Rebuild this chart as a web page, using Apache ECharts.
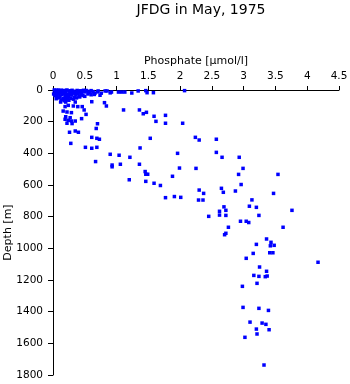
<!DOCTYPE html>
<html>
<head>
<meta charset="utf-8">
<script src="https://cdn.jsdelivr.net/npm/echarts@6/dist/echarts.min.js"></script>
<style>html,body{margin:0;padding:0;background:#fff}#c{width:350px;height:384px}</style>
</head>
<body>
<div id="c"></div>
<script>
var titleText = "JFDG in May, 1975";
var xName = "Phosphate [µmol/l]";
var yName = "Depth [m]";
var xTicks = [0, 0.5, 1, 1.5, 2, 2.5, 3, 3.5, 4, 4.5];
var yTicks = [0, 200, 400, 600, 800, 1000, 1200, 1400, 1600, 1800];

// Phosphate values [µmol/l]
var phosphate = [
  0.02,0.05,0.08,0.10,0.13,0.15,0.18,0.20,0.22,0.25,0.27,0.30,0.33,0.35,0.38,0.40,0.43,0.45,0.48,0.50,
  0.53,0.56,0.60,0.63,0.66,0.04,0.07,0.09,0.12,0.14,0.17,0.19,0.21,0.24,0.26,0.29,0.31,0.34,0.36,0.39,
  0.41,0.44,0.47,0.03,0.06,0.09,0.11,0.16,0.20,0.23,0.28,0.32,0.37,0.42,0.05,0.13,0.18,0.25,0.10,0.15,
  0.30,0.55,0.60,0.50,0.70,0.76,0.65,0.85,0.90,0.01,0.06,0.12,0.27,0.35,0.44,0.52,0.58,
  0.71,0.82,0.92,1.03,1.08,1.13,1.24,1.34,1.46,1.48,1.58,2.07,0.74,
  0.61,0.81,0.84,1.11,1.36,1.42,1.47,1.59,1.77,1.62,1.77,2.04,
  0.46,0.49,0.35,0.32,0.39,0.12,0.20,0.19,0.24,0.16,0.22,0.29,0.52,0.45,0.20,0.27,0.19,0.24,0.29,0.35,
  0.22,0.30,0.70,0.26,0.35,0.40,0.68,0.61,0.69,0.73,1.53,0.28,0.51,0.61,0.69,1.37,0.90,1.04,1.21,0.67,
  0.93,0.93,1.06,1.36,1.45,1.46,1.49,1.20,1.46,1.59,1.69,
  2.24,2.30,2.57,1.96,2.57,2.66,2.93,1.99,2.25,2.99,2.92,3.54,1.88,2.30,2.37,2.65,2.68,2.87,2.96,3.47,
  1.77,1.91,2.01,2.29,2.36,2.69,2.72,2.62,2.62,2.72,2.45,3.13,3.09,3.20,3.24,3.76,2.76,2.95,3.04,3.08,
  3.62,2.72,2.70,3.36,3.20,3.43,3.42,3.48,3.15,3.41,3.46,3.04,4.17,3.25,3.36,3.16,3.24,3.34,3.37,3.21,
  2.98,2.99,3.24,3.39,3.10,3.29,3.35,3.20,3.40,3.21,3.02,3.32
];
// Depth values [m]
var depth = [
  0,2,0,5,1,8,3,10,0,6,12,2,8,15,3,10,5,18,2,12,
  6,16,4,10,20,15,20,25,18,30,22,35,28,40,25,32,20,45,30,22,
  38,28,35,35,45,50,40,55,48,60,52,58,50,44,55,62,68,65,10,15,
  15,25,30,40,12,20,28,6,18,25,30,8,5,22,14,3,10,
  6,6,13,13,13,13,19,6,4,17,17,4,33,
  74,80,101,126,126,150,141,166,160,198,210,210,
  105,126,76,101,105,76,76,105,97,133,139,143,154,181,169,175,185,191,196,196,
  210,212,213,267,259,267,243,299,305,311,305,337,362,368,362,366,406,412,425,452,
  474,485,469,469,515,532,532,567,577,589,603,
  299,316,311,400,394,425,425,493,495,495,533,533,545,632,653,621,646,638,597,653,
  680,673,678,695,695,738,760,766,790,792,798,694,734,741,792,760,867,829,829,837,
  867,905,914,941,975,962,984,981,1032,1028,1028,1063,1088,1118,1145,1171,1177,1179,1175,1221,
  1240,1373,1379,1392,1466,1472,1480,1510,1514,1541,1562,1737
];

var points = phosphate.map(function (p, i) { return [p, depth[i]]; });

var chart = echarts.init(document.getElementById('c'), null, {renderer: 'canvas'});
var font = 'DejaVu Sans';
chart.setOption({
  animation: false,
  backgroundColor: '#fff',
  title: {
    text: titleText, left: 196, top: -2, textAlign: 'center',
    textStyle: {fontFamily: font, fontSize: 14, fontWeight: 'normal', color: '#000'}
  },
  grid: {left: 53, top: 90, width: 286, height: 285, containLabel: false, outerBoundsMode: 'none'},
  xAxis: {
    type: 'value', position: 'top', min: xTicks[0], max: xTicks[xTicks.length - 1], interval: 0.5,
    name: xName, nameLocation: 'middle', nameGap: 23, nameMoveOverlap: false,
    nameTextStyle: {fontFamily: font, fontSize: 11, color: '#000'},
    axisLine: {show: true, lineStyle: {color: '#000', width: 1}},
    axisTick: {show: true, inside: false, length: 4, lineStyle: {color: '#000'}},
    axisLabel: {fontFamily: font, fontSize: 10.5, color: '#000', margin: 8,
      formatter: function (v) { return String(v); }},
    splitLine: {show: false}
  },
  yAxis: {
    type: 'value', inverse: true, min: yTicks[0], max: yTicks[yTicks.length - 1], interval: 200,
    name: yName, nameLocation: 'middle', nameGap: 39, nameRotate: 90, nameMoveOverlap: false,
    nameTextStyle: {fontFamily: font, fontSize: 11, color: '#000'},
    axisLine: {show: true, lineStyle: {color: '#000', width: 1}},
    axisTick: {show: true, inside: false, length: 5, lineStyle: {color: '#000'}},
    axisLabel: {fontFamily: font, fontSize: 10.5, color: '#000', margin: 10,
      formatter: function (v) { return String(v); }},
    splitLine: {show: false}
  },
  series: [{
    type: 'scatter', data: points, symbol: 'rect', symbolSize: 3.5,
    itemStyle: {color: '#0000ff', opacity: 1}
  }]
});
</script>
</body>
</html>
